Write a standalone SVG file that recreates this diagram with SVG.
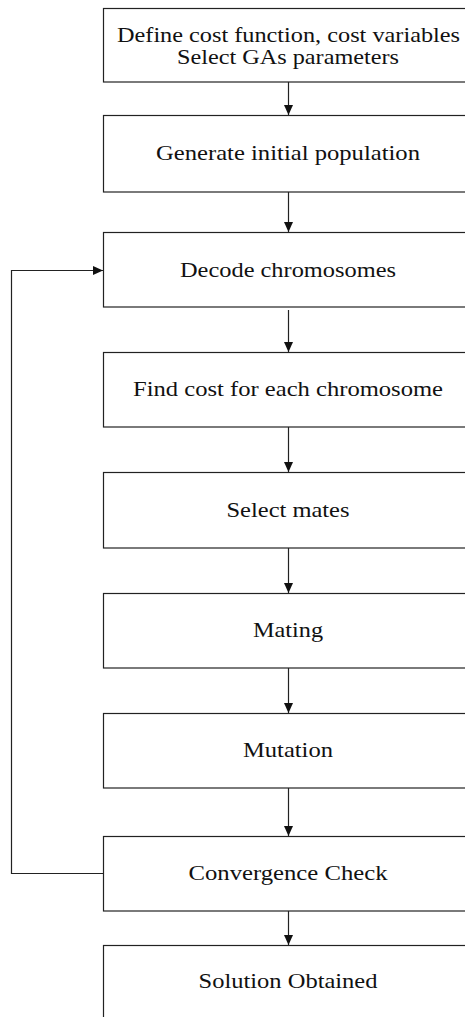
<svg xmlns="http://www.w3.org/2000/svg" width="465" height="1017" viewBox="0 0 465 1017">
<style>
.box{fill:#fff;stroke:#222;stroke-width:1.2}
.lbl{font-family:"Liberation Serif","Times New Roman",serif;font-size:21.5px;fill:#111;text-anchor:middle}
.conn{fill:none;stroke:#222;stroke-width:1.2}
</style>
<defs>
<marker id="ah" markerUnits="userSpaceOnUse" markerWidth="12" markerHeight="12" viewBox="0 0 12 12" refX="10" refY="6" orient="auto">
<path d="M0,1.5 L10,6 L0,10.5 Z" fill="#111"/>
</marker>
</defs>
<rect width="465" height="1017" fill="#fff"/>
<g id="n1"><rect class="box" x="103.5" y="8.5" width="370" height="73.5"/>
<text class="lbl" x="288.5" y="41.5" textLength="343" lengthAdjust="spacingAndGlyphs">Define cost function, cost variables</text>
<text class="lbl" x="288" y="64" textLength="222" lengthAdjust="spacingAndGlyphs">Select GAs parameters</text></g>
<g id="n2"><rect class="box" x="103.5" y="115.5" width="370" height="76.5"/>
<text class="lbl" x="288" y="160" textLength="264" lengthAdjust="spacingAndGlyphs">Generate initial population</text></g>
<g id="n3"><rect class="box" x="103.5" y="232.5" width="370" height="74.5"/>
<text class="lbl" x="288" y="277" textLength="216" lengthAdjust="spacingAndGlyphs">Decode chromosomes</text></g>
<g id="n4"><rect class="box" x="103.5" y="352.5" width="370" height="74.5"/>
<text class="lbl" x="288" y="396" textLength="310" lengthAdjust="spacingAndGlyphs">Find cost for each chromosome</text></g>
<g id="n5"><rect class="box" x="103.5" y="472.5" width="370" height="75.5"/>
<text class="lbl" x="288" y="517" textLength="123" lengthAdjust="spacingAndGlyphs">Select mates</text></g>
<g id="n6"><rect class="box" x="103.5" y="593.5" width="370" height="74.5"/>
<text class="lbl" x="288" y="637" textLength="70" lengthAdjust="spacingAndGlyphs">Mating</text></g>
<g id="n7"><rect class="box" x="103.5" y="713.5" width="370" height="74.5"/>
<text class="lbl" x="288" y="757" textLength="90" lengthAdjust="spacingAndGlyphs">Mutation</text></g>
<g id="n8"><rect class="box" x="103.5" y="836.5" width="370" height="74.5"/>
<text class="lbl" x="288" y="880" textLength="199" lengthAdjust="spacingAndGlyphs">Convergence Check</text></g>
<g id="n9"><rect class="box" x="103.5" y="945.5" width="370" height="80"/>
<text class="lbl" x="288" y="988" textLength="179" lengthAdjust="spacingAndGlyphs">Solution Obtained</text></g>
<g id="connectors">
<line class="conn" x1="288.5" y1="82" x2="288.5" y2="115" marker-end="url(#ah)"/>
<line class="conn" x1="288.5" y1="192" x2="288.5" y2="232" marker-end="url(#ah)"/>
<line class="conn" x1="288.5" y1="310" x2="288.5" y2="352" marker-end="url(#ah)"/>
<line class="conn" x1="288.5" y1="427" x2="288.5" y2="472" marker-end="url(#ah)"/>
<line class="conn" x1="288.5" y1="548" x2="288.5" y2="593" marker-end="url(#ah)"/>
<line class="conn" x1="288.5" y1="668" x2="288.5" y2="713" marker-end="url(#ah)"/>
<line class="conn" x1="288.5" y1="788" x2="288.5" y2="836" marker-end="url(#ah)"/>
<line class="conn" x1="288.5" y1="911" x2="288.5" y2="945" marker-end="url(#ah)"/>
<polyline class="conn" points="103,873.5 11.5,873.5 11.5,270.5 103,270.5" marker-end="url(#ah)"/>
</g>
</svg>
